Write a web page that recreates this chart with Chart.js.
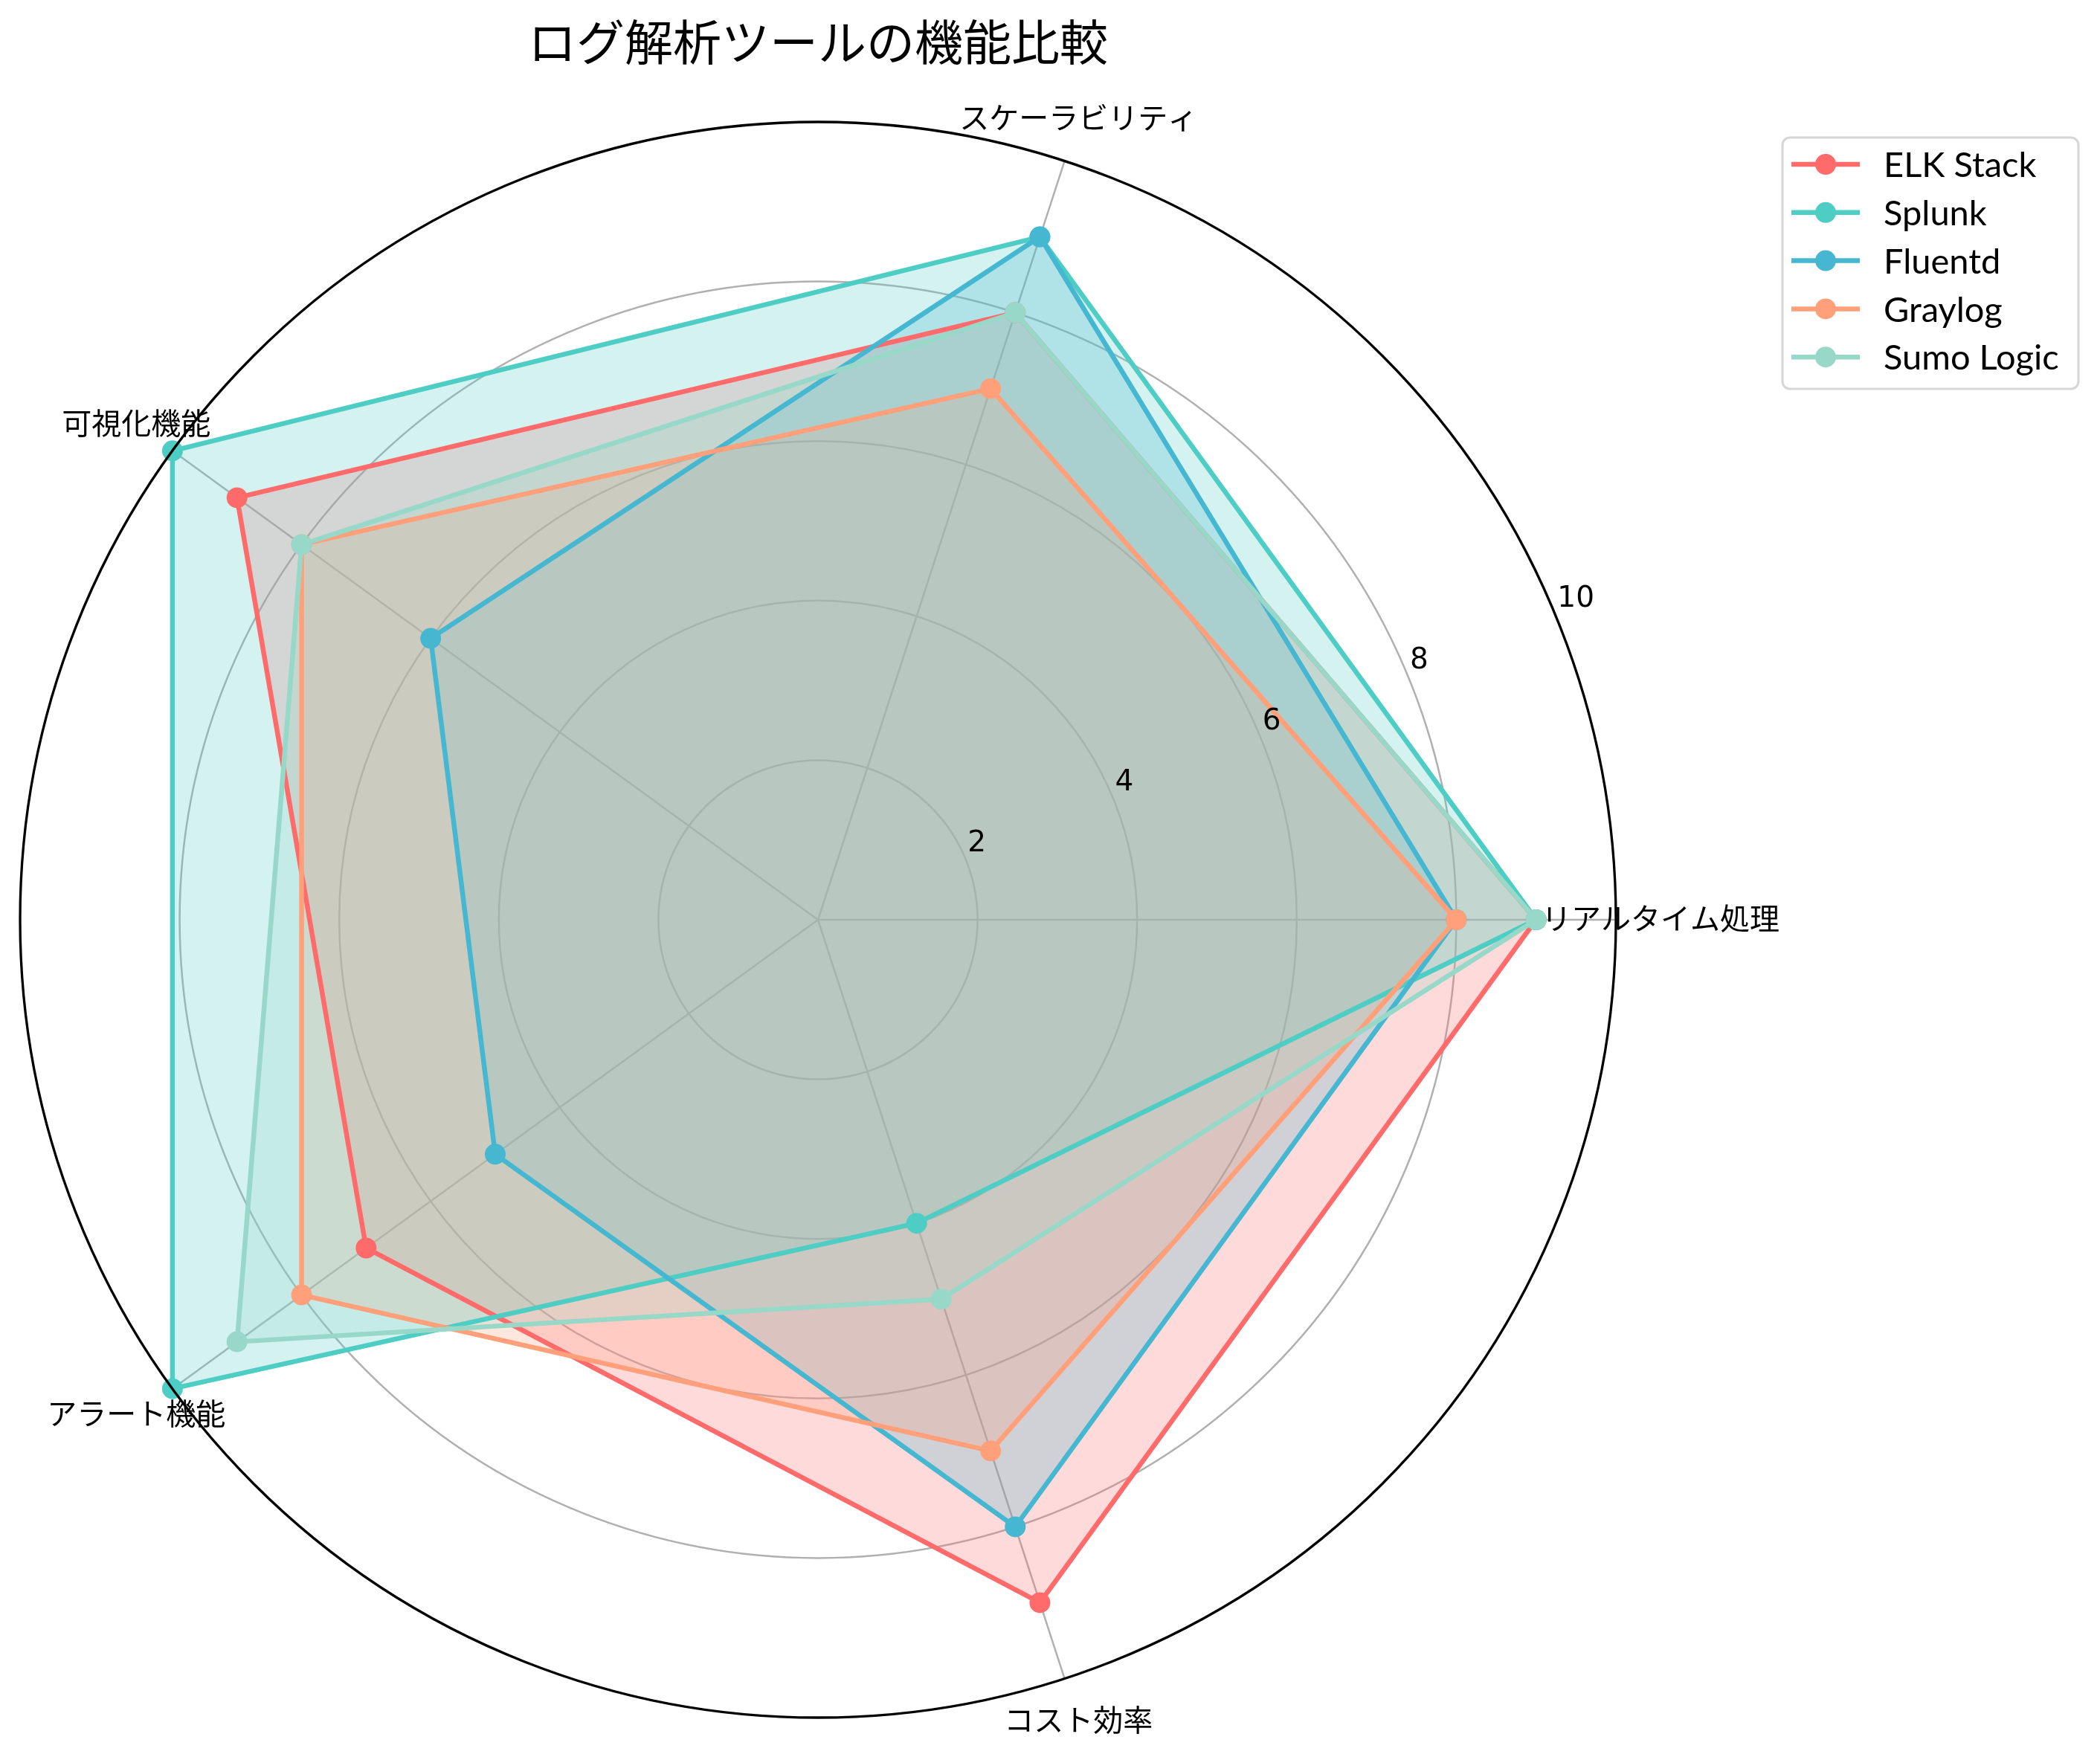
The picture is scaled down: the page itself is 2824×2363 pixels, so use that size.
<!DOCTYPE html>
<html>
<head>
<meta charset="utf-8">
<script src="https://cdn.jsdelivr.net/npm/chart.js@4.4.1/dist/chart.umd.min.js"></script>
<style>
  html, body { margin: 0; padding: 0; background: #fff; }
  canvas { display: block; }
</style>
</head>
<body>
<canvas id="radar" width="2824" height="2363"></canvas>
<script>
// axes listed clockwise starting at the right (Chart.js draws clockwise)
const categories = ["リアルタイム処理", "コスト効率", "アラート機能", "可視化機能", "スケーラビリティ"];
const tools = ["ELK Stack", "Splunk", "Fluentd", "Graylog", "Sumo Logic"];

const elkScores = [9, 9, 7, 9, 8];
const splunkScores = [9, 4, 10, 10, 9];
const fluentdScores = [8, 8, 5, 6, 9];
const graylogScores = [8, 7, 8, 8, 7];
const sumoScores = [9, 5, 9, 8, 8];

const radialTicks = [2, 4, 6, 8, 10];
const colors = ["#FF6B6B", "#4ECDC4", "#45B7D1", "#FFA07A", "#98D8C8"];

const seriesScores = [elkScores, splunkScores, fluentdScores, graylogScores, sumoScores];

// spine, tick labels, axis labels and legend drawn over the data like matplotlib does
const polarDecor = {
  id: "polarDecor",
  afterDatasetsDraw(chart) {
    const r = chart.scales.r;
    const ctx = chart.ctx;
    ctx.save();

    ctx.beginPath();
    ctx.arc(r.xCenter, r.yCenter, r.drawingArea, 0, Math.PI * 2);
    ctx.strokeStyle = "#000";
    ctx.lineWidth = 3.3;
    ctx.stroke();

    const a = 22.5 * Math.PI / 180;
    ctx.fillStyle = "#000";
    ctx.font = "39px 'DejaVu Sans'";
    ctx.textAlign = "left";
    ctx.textBaseline = "alphabetic";
    radialTicks.forEach(v => {
      const d = r.getDistanceFromCenterForValue(v);
      ctx.fillText(String(v), r.xCenter + d * Math.cos(a) + 3, r.yCenter - d * Math.sin(a) - 10);
    });

    ctx.font = "40px 'Noto Sans CJK JP'";
    ctx.textAlign = "center";
    ctx.textBaseline = "middle";
    categories.forEach((label, i) => {
      const p = r.getPointPosition(i, r.drawingArea * 1.056);
      ctx.fillText(label, p.x, p.y - 2);
    });
    ctx.restore();
  },
  afterDraw(chart) {
    const ctx = chart.ctx;
    const box = { x: 2397, y: 185, w: 398, h: 338 };
    ctx.save();
    ctx.beginPath();
    ctx.roundRect(box.x, box.y, box.w, box.h, 10);
    ctx.fillStyle = "rgba(255,255,255,0.8)";
    ctx.fill();
    ctx.strokeStyle = "#d6d6d6";
    ctx.lineWidth = 3;
    ctx.stroke();

    ctx.font = "47px Lato";
    ctx.textAlign = "left";
    ctx.textBaseline = "middle";
    chart.data.datasets.forEach((ds, i) => {
      const y = 221 + i * 64.8;
      ctx.beginPath();
      ctx.moveTo(2409, y);
      ctx.lineTo(2501, y);
      ctx.strokeStyle = ds.borderColor;
      ctx.lineWidth = ds.borderWidth;
      ctx.stroke();
      ctx.beginPath();
      ctx.arc(2455, y, ds.pointRadius, 0, Math.PI * 2);
      ctx.fillStyle = ds.pointBackgroundColor;
      ctx.fill();
      ctx.fillStyle = "#000";
      ctx.fillText(ds.label, 2533, y + 2);
    });
    ctx.restore();
  }
};

new Chart(document.getElementById("radar"), {
  type: "radar",
  data: {
    labels: categories,
    datasets: tools.map((name, i) => ({
      label: name,
      data: seriesScores[i],
      borderColor: colors[i],
      backgroundColor: colors[i] + "40",
      borderWidth: 6.5,
      borderJoinStyle: "round",
      pointRadius: 14,
      pointBorderWidth: 0,
      pointBackgroundColor: colors[i],
      pointBorderColor: colors[i],
      fill: "origin",
      order: tools.length - i,
    })),
  },
  options: {
    responsive: false,
    devicePixelRatio: 1,
    animation: false,
    layout: { padding: { left: 27, right: 651, top: 0, bottom: 53 } },
    plugins: {
      legend: { display: false },
      tooltip: { enabled: false },
      // all fills go under all lines, as in the matplotlib original
      filler: { drawTime: "beforeDatasetsDraw" },
      title: {
        display: true,
        text: "ログ解析ツールの機能比較",
        color: "#000",
        font: { family: "'Noto Sans CJK JP'", size: 65, weight: "normal", lineHeight: 1.2 },
        padding: { top: 17, bottom: 69 },
      },
    },
    scales: {
      r: {
        min: 0,
        max: 10,
        startAngle: 90,
        ticks: { display: false, stepSize: 2 },
        pointLabels: { display: false },
        grid: {
          circular: true,
          color: (c) => (c.tick && c.tick.value === 10 ? "rgba(0,0,0,0)" : "#b0b0b0"),
          lineWidth: 2.5,
        },
        angleLines: { color: "#b0b0b0", lineWidth: 2.5 },
      },
    },
  },
  plugins: [polarDecor],
});
</script>
</body>
</html>
